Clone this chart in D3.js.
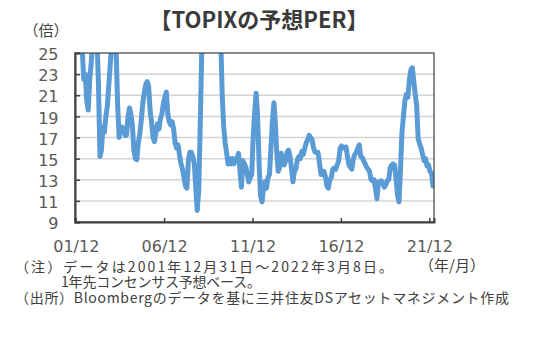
<!DOCTYPE html>
<html><head><meta charset="utf-8">
<script src="https://cdn.jsdelivr.net/npm/d3@7"></script>
<style>
body{margin:0;background:#fff;}
svg{display:block;}
</style>
</head><body>
<svg id="chart" width="539" height="337"></svg>
<script>
// ---- data (forecast PER of TOPIX, monthly readings, value in times) ----
const yearList = [2002,2003,2004,2005,2006,2007,2008,2009,2010,2011,2012,2013,2014,2015,2016,2017,2018,2019,2020,2021,2022];
const per2002 = [28, 27.5, 26.5, 25.2, 22.5, 23, 20.5, 19.6, 22.5, 24, 26, 27];
const per2003 = [27, 26, 22, 15.2, 15.8, 18, 17.5, 19, 20, 22, 24, 26];
const per2004 = [27, 27, 25, 20, 17, 18, 18, 17.8, 17.2, 17.2, 19, 19.8];
const per2005 = [19.2, 18, 15.8, 15.0, 14.9, 16.5, 17.3, 18.6, 20.2, 21.2, 22.0, 22.3];
const per2006 = [21.8, 19.5, 18.5, 17, 16.6, 17.5, 18.3, 17.8, 18.8, 19.2, 20.2, 20.8];
const per2007 = [21.3, 19.2, 18.5, 18.2, 18.5, 17.8, 16.5, 16, 16.3, 15.3, 14.5, 14];
const per2008 = [13.2, 12.4, 12.2, 14.8, 15.6, 15.6, 15.2, 14.5, 12.2, 10.1, 12, 18];
const per2009 = [25, 28, 30, 31, 32, 32, 32, 31, 30, 30, 29, 28];
const per2010 = [27.5, 26, 21, 18, 16.5, 15.5, 14.5, 15, 14.5, 15, 14.5, 15];
const per2011 = [15, 15.5, 14, 12.3, 14.8, 14.5, 14.2, 13.5, 12.8, 13.2, 13.5, 17];
const per2012 = [19.5, 21.2, 19, 14.5, 11.5, 10.9, 12.2, 12.8, 12.2, 13.2, 13.5, 16];
const per2013 = [18.5, 20.3, 18.5, 15.5, 13.8, 14.2, 15.5, 14.8, 14.4, 14.8, 15.6, 15.8];
const per2014 = [15.2, 14, 12.8, 13.8, 14, 14.9, 15.2, 15, 15.7, 15.4, 16, 16.5];
const per2015 = [16.8, 17.2, 17, 16.8, 16, 15.6, 15.6, 15.6, 14.6, 13.5, 13.5, 13.8];
const per2016 = [13.3, 12.4, 12.2, 13, 13.2, 14, 14.1, 14, 14.4, 14.8, 16, 16.2];
const per2017 = [16, 16, 16.1, 15.2, 14.4, 14.2, 14, 15, 15.4, 15.6, 16, 16.3];
const per2018 = [15.2, 15.1, 14.8, 14.5, 14.2, 14, 13.8, 13, 12.9, 13, 12.2, 11.2];
const per2019 = [12.8, 12.7, 12.9, 12.6, 12.3, 12.5, 12.9, 13, 14.1, 14.4, 14.5, 14.4];
const per2020 = [13, 11.5, 10.9, 14, 17.5, 19, 20.5, 21.1, 20.8, 22.5, 23.4, 23.6];
const per2021 = [22.3, 21, 20, 16.9, 16.4, 16, 15.4, 14.8, 15, 14.3, 14.4, 13.8];
const per2022 = [13.6, 12.4, 12.8];
const perSeries = [per2002,per2003,per2004,per2005,per2006,per2007,per2008,per2009,per2010,per2011,per2012,per2013,per2014,per2015,per2016,per2017,per2018,per2019,per2020,per2021,per2022];
const dataStart = "2001-12-31";
const dataEnd = "2022-03-08";

const yTicks = [9, 11, 13, 15, 17, 19, 21, 23, 25];
const xTickDates = ["2001-12-01", "2006-12-01", "2011-12-01", "2016-12-01", "2021-12-01"];

const titleText = "【TOPIXの予想PER】";
const yUnit = "（倍）";
const xUnit = "（年/月）";
const notes = ["（注）データは2001年12月31日～2022年3月8日。", "1年先コンセンサス予想ベース。", "（出所）Bloombergのデータを基に三井住友DSアセットマネジメント作成"];

// ---- build rows ----
const parse = d3.timeParse("%Y-%m-%d");
const rows = [];
yearList.forEach((yr, i) => {
  perSeries[i].forEach((v, m) => {
    let d = new Date(yr, m, 15);
    if (yr === 2022 && m === perSeries[i].length - 1) d = parse(dataEnd);
    rows.push({date: d, v: v});
  });
});

// ---- layout ----
const svg = d3.select("#chart");
const L = 75, R = 434, T = 53, B = 222;
const x = d3.scaleTime().domain([new Date(2001, 10, 15), parse(dataEnd)]).range([L, R]);
const y = d3.scaleLinear().domain([9, 25]).range([B, T]);

const grey = "#595959";
const dark = "#404040";

// gridlines
svg.append("g").selectAll("line").data(yTicks.filter(t => t > 9 && t < 25)).join("line")
  .attr("x1", L).attr("x2", R).attr("y1", d => y(d)).attr("y2", d => y(d))
  .attr("stroke", "#d4d4d4").attr("stroke-width", 1.5);

// clip
svg.append("clipPath").attr("id", "plotclip").append("rect")
  .attr("x", L).attr("y", T).attr("width", R - L).attr("height", B - T);

// line
svg.append("path").datum(rows)
  .attr("clip-path", "url(#plotclip)")
  .attr("fill", "none").attr("stroke", "#5B9BD5").attr("stroke-width", 5)
  .attr("stroke-linejoin", "round").attr("stroke-linecap", "round")
  .attr("d", d3.line().x(d => x(d.date)).y(d => y(d.v)));

// border
svg.append("rect").attr("x", L).attr("y", T).attr("width", R - L).attr("height", B - T)
  .attr("fill", "none").attr("stroke", dark).attr("stroke-width", 1.2);

// y axis
const yAxis = svg.append("g").attr("transform", `translate(${L},0)`)
  .call(d3.axisLeft(y).tickValues(yTicks).tickSize(-5).tickPadding(16.5).tickFormat(d3.format("d")));
yAxis.select(".domain").attr("stroke", dark).attr("stroke-width", 2);
yAxis.selectAll(".tick line").attr("stroke", dark).attr("stroke-width", 1.5);
yAxis.selectAll("text").attr("fill", grey).attr("font-size", 16)
  .attr("font-family", "'DejaVu Sans', sans-serif").attr("dy", "0.42em");

// x axis
const xAxis = svg.append("g").attr("transform", `translate(0,${B})`)
  .call(d3.axisBottom(x).tickValues(xTickDates.map(parse)).tickSize(-4).tickPadding(19)
    .tickFormat(d3.timeFormat("%y/%m")));
xAxis.select(".domain").attr("stroke", dark).attr("stroke-width", 2);
xAxis.selectAll(".tick line").attr("stroke", dark).attr("stroke-width", 1.5);
xAxis.selectAll("text").attr("fill", grey).attr("font-size", 16)
  .attr("font-family", "'DejaVu Sans', sans-serif");

// title
svg.append("text").attr("x", 259).attr("y", 28).attr("text-anchor", "middle")
  .attr("font-family", "'Noto Sans CJK JP', sans-serif").attr("font-weight", "bold")
  .attr("font-size", 22).attr("fill", "#3a3a3a").text(titleText);

// unit labels
svg.append("text").attr("x", 46).attr("y", 36).attr("text-anchor", "middle")
  .attr("font-family", "'Noto Sans CJK JP', sans-serif").attr("font-size", 15)
  .attr("fill", dark).text(yUnit);
svg.append("text").attr("x", 452).attr("y", 271).attr("text-anchor", "middle")
  .attr("font-family", "'Noto Sans CJK JP', sans-serif").attr("font-size", 15)
  .attr("fill", dark).text(xUnit);

// notes
const noteX = [15, 61, 15];
const noteY = [271.5, 287, 302.5];
const noteSize = [14, 14, 14];
const noteLen = [378, 200, 494];
notes.forEach((t, i) => {
  svg.append("text").attr("x", noteX[i]).attr("y", noteY[i])
    .attr("font-family", "'Noto Sans CJK JP', sans-serif").attr("font-size", noteSize[i])
    .attr("fill", dark).attr("textLength", noteLen[i]).attr("lengthAdjust", "spacing")
    .text(t);
});
</script>
</body></html>
